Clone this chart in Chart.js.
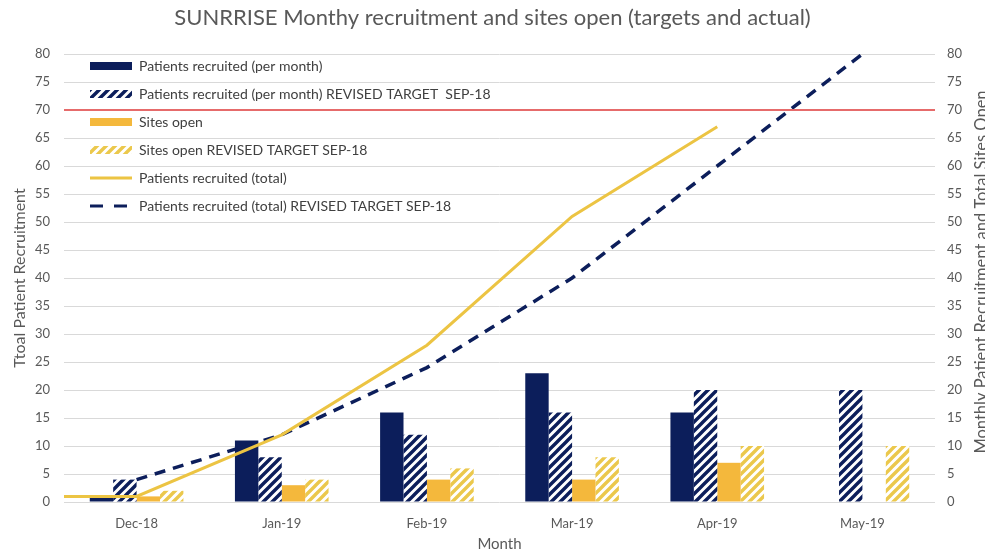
<!DOCTYPE html>
<html><head><meta charset="utf-8">
<script src="https://cdn.jsdelivr.net/npm/chart.js@4/dist/chart.umd.min.js"></script>
<style>html,body{margin:0;padding:0;background:#fff;}</style>
</head><body>
<canvas id="c" width="985" height="553"></canvas>
<script>
// ---- data ----
const months = ['Dec-18', 'Jan-19', 'Feb-19', 'Mar-19', 'Apr-19', 'May-19'];
const recruitedMonthly = [1, 11, 16, 23, 16, null];
const recruitedMonthlyTarget = [4, 8, 12, 16, 20, 20];
const sitesOpen = [1, 3, 4, 4, 7, null];
const sitesOpenTarget = [2, 4, 6, 8, 10, 10];
const recruitedTotal = [1, 12, 28, 51, 67, null];
const recruitedTotalStart = 1;          // value at the left edge of the plot
const recruitedTotalTarget = [4, 12, 24, 40, 60, 80];
const capValue = 70;                    // red horizontal line
const yTicks = { min: 0, max: 80, step: 5 };

const titleText = 'SUNRRISE Monthy recruitment and sites open (targets and actual)';
const leftAxisTitle = 'Ttoal Patient Recruitment';
const rightAxisTitle = 'Monthly Patient Recruitment and Total Sites Open';
const xAxisTitle = 'Month';
const seriesNames = [
  'Patients recruited (per month)',
  'Patients recruited (per month) REVISED TARGET  SEP-18',
  'Sites open',
  'Sites open REVISED TARGET SEP-18',
  'Patients recruited (total)',
  'Patients recruited (total) REVISED TARGET SEP-18'
];

// ---- styles ----
const FONT = 'Lato, "Open Sans", sans-serif';
const TXT = '#595959';
const NAVY = '#0c1e5b';
const GOLD = '#f4b83c';
const LINEGOLD = '#ecc443';
const HATCHGOLD = '#ebc84c';
const RED = '#e66b6b';

function hatch(color) {
  const n = 9;
  const c = document.createElement('canvas');
  c.width = n; c.height = n;
  const g = c.getContext('2d');
  g.fillStyle = '#ffffff'; g.fillRect(0, 0, n, n);
  g.strokeStyle = color; g.lineWidth = 3.4;
  g.beginPath();
  g.moveTo(-4, 4); g.lineTo(4, -4);
  g.moveTo(-2, n + 2); g.lineTo(n + 2, -2);
  g.moveTo(n - 4, n + 4); g.lineTo(n + 4, n - 4);
  g.stroke();
  return g.createPattern(c, 'repeat');
}
const navyHatch = hatch(NAVY);
const goldHatch = hatch(HATCHGOLD);

// month index -> {x, y}; all series share one linear x scale (months at 0..5)
const toXY = arr => arr.map((y, i) => (y == null ? null : { x: i, y })).filter(Boolean);

const barCommon = { type: 'bar', order: 2, categoryPercentage: 0.645, barPercentage: 1, borderWidth: 0, _ps: 'rect' };
const lineCommon = { type: 'line', order: 1, pointRadius: 0, fill: false, tension: 0, _ps: 'line' };

const datasets = [
  Object.assign({ label: seriesNames[0], data: toXY(recruitedMonthly), backgroundColor: NAVY }, barCommon),
  Object.assign({ label: seriesNames[1], data: toXY(recruitedMonthlyTarget), backgroundColor: navyHatch }, barCommon),
  Object.assign({ label: seriesNames[2], data: toXY(sitesOpen), backgroundColor: GOLD }, barCommon),
  Object.assign({ label: seriesNames[3], data: toXY(sitesOpenTarget), backgroundColor: goldHatch }, barCommon),
  Object.assign({ label: seriesNames[4], data: [{ x: -0.5, y: recruitedTotalStart }].concat(toXY(recruitedTotal)),
    borderColor: LINEGOLD, borderWidth: 3, _dash: [] }, lineCommon),
  Object.assign({ label: seriesNames[5], data: toXY(recruitedTotalTarget),
    borderColor: NAVY, borderWidth: 3.5, borderDash: [11, 8], _dash: [13, 11] }, lineCommon),
  Object.assign({}, lineCommon, { label: '', data: [{ x: -0.5, y: capValue }, { x: months.length - 0.5, y: capValue }],
    borderColor: RED, borderWidth: 2, order: 0 })
];

const legendShift = {
  id: 'legendShift',
  afterLayout(chart) {
    const l = chart.legend, a = chart.chartArea;
    if (l) { l.left = a.left + 12; l.right = a.right; l.top = a.top - 9; l.bottom = a.bottom; }
  }
};
const rightTitle = {
  id: 'rightTitle',
  afterDraw(chart) {
    const ctx = chart.ctx, a = chart.chartArea;
    ctx.save();
    ctx.translate(982, (a.top + a.bottom) / 2 - 6);
    ctx.rotate(-Math.PI / 2);
    ctx.font = '16.5px ' + FONT;
    ctx.fillStyle = TXT;
    ctx.textAlign = 'center';
    ctx.textBaseline = 'middle';
    ctx.fillText(rightAxisTitle, 0, 0);
    ctx.restore();
  }
};

new Chart(document.getElementById('c'), {
  type: 'bar',
  data: { datasets },
  plugins: [legendShift, rightTitle],
  options: {
    responsive: false,
    devicePixelRatio: 1,
    animation: false,
    layout: { padding: 0 },
    plugins: {
      tooltip: { enabled: false },
      title: {
        display: true, text: titleText, color: TXT,
        font: { family: FONT, size: 22, weight: 'normal' },
        padding: { top: 5, bottom: 22.6 }
      },
      legend: {
        position: 'chartArea', align: 'start',
        labels: {
          usePointStyle: true, pointStyleWidth: 42, boxHeight: 8, padding: 14,
          color: '#404040', font: { family: FONT, size: 14 },
          generateLabels(chart) {
            return chart.data.datasets.map((d, i) => ({
              text: d.label,
              datasetIndex: i,
              hidden: false,
              pointStyle: d._ps,
              fillStyle: d._ps === 'rect' ? d.backgroundColor : d.borderColor,
              strokeStyle: d._ps === 'rect' ? 'rgba(0,0,0,0)' : d.borderColor,
              lineWidth: d._ps === 'rect' ? 0 : 3,
              lineDash: d._dash || [],
              fontColor: '#404040'
            })).filter(it => it.text !== '');
          }
        }
      }
    },
    scales: {
      x: {
        type: 'linear', offset: false, min: -0.5, max: months.length - 0.5,
        afterBuildTicks(s) { s.ticks = months.map((m, i) => ({ value: i })); },
        grid: { display: false }, border: { display: false },
        ticks: { color: TXT, font: { family: FONT, size: 13 }, padding: 6, autoSkip: false, maxRotation: 0,
          callback: v => months[v] },
        title: { display: true, text: xAxisTitle, color: TXT, font: { family: FONT, size: 15 }, padding: { top: 0, bottom: 0 } },
        afterFit(s) { s.height = 51; }
      },
      y: {
        position: 'left', min: yTicks.min, max: yTicks.max,
        ticks: { stepSize: yTicks.step, color: TXT, font: { family: FONT, size: 13 }, padding: 14 },
        grid: { color: '#d9d9d9', drawTicks: false }, border: { display: false },
        title: { display: true, text: leftAxisTitle, color: TXT, font: { family: FONT, size: 16 }, padding: { top: 10 } },
        afterFit(s) { s.width = 64; }
      },
      y2: {
        position: 'right', min: yTicks.min, max: yTicks.max,
        ticks: { stepSize: yTicks.step, color: TXT, font: { family: FONT, size: 13 }, padding: 12 },
        grid: { drawOnChartArea: false, drawTicks: false }, border: { display: false },
        afterFit(s) { s.width = 50; }
      }
    }
  }
});
</script>
</body></html>
